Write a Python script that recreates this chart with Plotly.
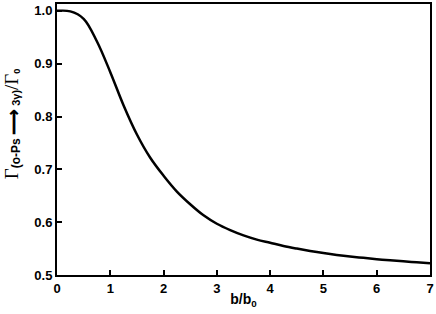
import plotly.graph_objects as go

# curve: b/b0 vs Gamma(o-Ps -> 3gamma)/Gamma0 (every 0.25)
b_ratio = [
    0.0, 0.25, 0.5, 0.75, 1.0, 1.25, 1.5, 1.75, 2.0, 2.25, 2.5, 2.75, 3.0, 3.25, 3.5,
    3.75, 4.0, 4.25, 4.5, 4.75, 5.0, 5.25, 5.5, 5.75, 6.0, 6.25, 6.5, 6.75, 7.0,
]
gamma_ratio = [
    1.0, 0.999, 0.985, 0.942, 0.884, 0.821, 0.766, 0.722, 0.688, 0.658, 0.634, 0.613,
    0.597, 0.585, 0.575, 0.567, 0.561, 0.555, 0.550, 0.5455, 0.5415, 0.538, 0.535,
    0.5325, 0.530, 0.5278, 0.5258, 0.524, 0.5222,
]

x_ticks = [0, 1, 2, 3, 4, 5, 6, 7]
y_ticks = [0.5, 0.6, 0.7, 0.8, 0.9, 1.0]

fig = go.Figure()
fig.add_trace(
    go.Scatter(
        x=b_ratio,
        y=gamma_ratio,
        mode="lines",
        line=dict(color="black", width=2.5, shape="spline", smoothing=1.0),
        showlegend=False,
        hoverinfo="skip",
    )
)

axis = dict(
    showline=True,
    linecolor="black",
    linewidth=2,
    mirror=True,
    showgrid=False,
    zeroline=False,
    ticks="inside",
    ticklen=5,
    tickwidth=1.5,
    tickcolor="black",
    automargin=False,
    tickfont=dict(family="Liberation Sans", size=13, color="black", weight="bold"),
)

serif = "font-family:Liberation Serif;font-size:19px;font-weight:normal;color:black"

fig.update_layout(
    width=436,
    height=314,
    paper_bgcolor="white",
    plot_bgcolor="white",
    margin=dict(l=57, r=6, t=4, b=39),
    xaxis=dict(
        axis,
        range=[0, 7],
        tickvals=x_ticks,
        ticktext=[str(v) for v in x_ticks],
        title=dict(
            text="b/b<sub>0</sub>",
            font=dict(family="Liberation Sans", size=14, color="black", weight="bold"),
            standoff=0,
        ),
    ),
    yaxis=dict(
        axis,
        range=[0.5, 1.013],
        tickvals=y_ticks,
        ticktext=[f"{v:.1f}" for v in y_ticks],
    ),
)

# y title as a rotated annotation so its centre can sit a bit above the plot middle
fig.add_annotation(
    text=f"<span style='{serif}'>Γ</span>"
    "<sub><span style='font-size:12px'>(o-Ps </span>"
    "<span style='font-size:18px'>⟶</span>"
    "<span style='font-size:11px'> 3γ)</span></sub>"
    f"<span style='{serif}'>/Γ</span>"
    "<sub>0</sub>",
    font=dict(family="Liberation Sans", size=13, color="black", weight="bold"),
    textangle=-90,
    xref="paper",
    yref="paper",
    x=-0.118,
    y=0.56,
    xanchor="center",
    yanchor="middle",
    showarrow=False,
)

# the page gets no body margin, so the figure sits at the window's corner
fig.write_html(
    "out.html",
    post_script="document.body.style.margin='0';",
    config=dict(displayModeBar=False),
)
